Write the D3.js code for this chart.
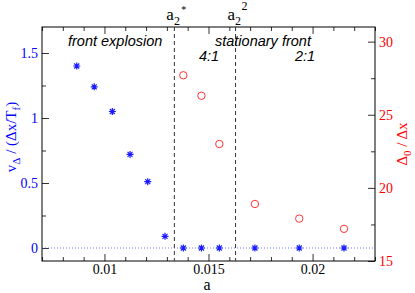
<!DOCTYPE html>
<html>
<head>
<meta charset="utf-8">
<script src="https://cdn.jsdelivr.net/npm/d3@7"></script>
<style>
  body { margin: 0; background: #fff; }
  svg { display: block; }
  .note { font-family: "Liberation Sans", Arial, sans-serif; font-style: italic; font-size: 14.5px; }
</style>
</head>
<body>
<svg></svg>
<script>
// размеры картинки
const width = 415;
const height = 293;
const margin = { top: 27, right: 40, bottom: 32, left: 42 };

// данные: скорость фронта (звёздочки, левая ось)
const speedA = [0.00867, 0.00951, 0.01038, 0.01123, 0.01208, 0.01291, 0.01379, 0.01466, 0.01552, 0.01723, 0.01936, 0.02151];
const speedV = [1.40, 1.24, 1.05, 0.72, 0.51, 0.09, 0, 0, 0, 0, 0, 0];

// данные: ширина фронта (кружки, правая ось)
const widthA = [0.01379, 0.01466, 0.01552, 0.01723, 0.01936, 0.02151];
const widthD = [27.7, 26.3, 23.0, 18.9, 17.9, 17.2];

// вертикальные пунктиры a2* и a2^2
const thresholds = [0.01336, 0.0163];

// подписи делений
const xTicks = [0.01, 0.015, 0.02];
const leftTicks = [0, 0.5, 1, 1.5];
const rightTicks = [15, 20, 25, 30];

const serif = "'Liberation Serif', 'Times New Roman', serif";

const svg = d3.select("svg")
  .attr("width", width)
  .attr("height", height);

const x0 = margin.left, x1 = width - margin.right;
const y0 = margin.top, y1 = height - margin.bottom;

const x = d3.scaleLinear().domain([0.007, 0.023]).range([x0, x1]);
const yL = d3.scaleLinear().domain([-0.1, 1.7]).range([y1, y0]);
const yR = d3.scaleLinear().domain([15, 31]).range([y1, y0]);

// мелкие деления
const xMinor = d3.range(7, 24).map(d => d / 1000).filter(d => !xTicks.some(t => Math.abs(t - d) < 1e-9));
const leftMinor = [0.25, 0.75, 1.25];
const rightMinor = [17.5, 22.5, 27.5];

function clean(g) {
  g.attr("font-family", serif).attr("font-size", 14);
  g.select(".domain").remove();
  g.selectAll(".tick line").attr("stroke", "#333");
}

// нижняя ось
svg.append("g")
  .attr("transform", `translate(0,${y1})`)
  .call(d3.axisBottom(x).tickValues(xTicks).tickSize(-7).tickPadding(3).tickFormat(d3.format("")))
  .call(clean)
  .call(g => g.selectAll("text").attr("fill", "#000"));
svg.append("g")
  .attr("transform", `translate(0,${y1})`)
  .call(d3.axisBottom(x).tickValues(xMinor).tickSize(-4).tickFormat(""))
  .call(clean);

// верхняя ось (без подписей)
svg.append("g")
  .attr("transform", `translate(0,${y0})`)
  .call(d3.axisTop(x).tickValues(xTicks).tickSize(-7).tickFormat(""))
  .call(clean);
svg.append("g")
  .attr("transform", `translate(0,${y0})`)
  .call(d3.axisTop(x).tickValues(xMinor).tickSize(-4).tickFormat(""))
  .call(clean);

// левая ось
svg.append("g")
  .attr("transform", `translate(${x0},0)`)
  .call(d3.axisLeft(yL).tickValues(leftTicks).tickSize(-7).tickPadding(4).tickFormat(d3.format("")))
  .call(clean)
  .call(g => g.selectAll("text").attr("fill", "#0000ff"));
svg.append("g")
  .attr("transform", `translate(${x0},0)`)
  .call(d3.axisLeft(yL).tickValues(leftMinor).tickSize(-4).tickFormat(""))
  .call(clean);

// правая ось
svg.append("g")
  .attr("transform", `translate(${x1},0)`)
  .call(d3.axisRight(yR).tickValues(rightTicks).tickSize(-7).tickPadding(4).tickFormat(d3.format("")))
  .call(clean)
  .call(g => g.selectAll("text").attr("fill", "#ff0000"));
svg.append("g")
  .attr("transform", `translate(${x1},0)`)
  .call(d3.axisRight(yR).tickValues(rightMinor).tickSize(-4).tickFormat(""))
  .call(clean);

// рамка
svg.append("rect")
  .attr("x", x0).attr("y", y0)
  .attr("width", x1 - x0).attr("height", y1 - y0)
  .attr("fill", "none").attr("stroke", "#000").attr("stroke-width", 1);

// нулевая линия
svg.append("line")
  .attr("x1", x0).attr("x2", x1)
  .attr("y1", yL(0)).attr("y2", yL(0))
  .attr("stroke", "#4455ff").attr("stroke-width", 0.8)
  .attr("stroke-dasharray", "1,2");

// пунктиры
svg.selectAll(".thr")
  .data(thresholds)
  .join("line")
  .attr("class", "thr")
  .attr("x1", d => x(d)).attr("x2", d => x(d))
  .attr("y1", y0).attr("y2", y1)
  .attr("stroke", "#333").attr("stroke-width", 1)
  .attr("stroke-dasharray", "4,3");

// подписи над пунктирами
const topLabels = [
  { a: thresholds[0], sup: "*" },
  { a: thresholds[1], sup: "2" }
];
topLabels.forEach(l => {
  const t = svg.append("text")
    .attr("x", x(l.a) - 8).attr("y", 20)
    .attr("font-family", serif).attr("font-size", 17);
  t.append("tspan").text("a");
  t.append("tspan").attr("font-size", 12).attr("dy", 5).text("2");
  svg.append("text")
    .attr("x", x(l.a) + (l.sup === "*" ? 7 : 6)).attr("y", l.sup === "*" ? 13 : 10)
    .attr("font-family", serif).attr("font-size", l.sup === "*" ? 10 : 12)
    .text(l.sup);
});

// кружки
svg.append("g")
  .selectAll("circle")
  .data(widthA.map((a, i) => [a, widthD[i]]))
  .join("circle")
  .attr("cx", d => x(d[0]))
  .attr("cy", d => yR(d[1]))
  .attr("r", 3.7)
  .attr("fill", "none")
  .attr("stroke", "#ff3333")
  .attr("stroke-width", 1);

// звёздочки
const star = "M-3.5,0H3.5M0,-3.5V3.5M-2.5,-2.5L2.5,2.5M-2.5,2.5L2.5,-2.5";
svg.append("g")
  .selectAll("path")
  .data(speedA.map((a, i) => [a, speedV[i]]))
  .join("path")
  .attr("transform", d => `translate(${x(d[0])},${yL(d[1])})`)
  .attr("d", star)
  .attr("stroke", "#1a1aff")
  .attr("stroke-width", 1.2)
  .attr("fill", "none");

// надписи
const notes = [
  { text: "front explosion", x: 68, y: 46 },
  { text: "stationary front", x: 215, y: 46 },
  { text: "4:1", x: 199, y: 61 },
  { text: "2:1", x: 295, y: 61 }
];
svg.selectAll(".note")
  .data(notes)
  .join("text")
  .attr("class", "note")
  .attr("x", d => d.x).attr("y", d => d.y)
  .text(d => d.text);

// подпись оси x
svg.append("text")
  .attr("x", 207).attr("y", 290)
  .attr("text-anchor", "middle")
  .attr("font-family", serif).attr("font-size", 16)
  .text("a");

// левая подпись
const ly = svg.append("text")
  .attr("transform", `translate(16,137) rotate(-90)`)
  .attr("text-anchor", "middle")
  .attr("font-family", serif).attr("font-size", 15)
  .attr("fill", "#0000ff");
ly.append("tspan").text("v");
ly.append("tspan").attr("font-size", 11).attr("dy", 4).text("Δ");
ly.append("tspan").attr("dy", -4).text(" / (Δx/T");
ly.append("tspan").attr("font-size", 11).attr("dy", 4).text("f");
ly.append("tspan").attr("dy", -4).text(")");

// правая подпись
const ry = svg.append("text")
  .attr("transform", `translate(407,${(y0 + y1) / 2}) rotate(-90)`)
  .attr("text-anchor", "middle")
  .attr("font-family", serif).attr("font-size", 15)
  .attr("fill", "#ff0000");
ry.append("tspan").text("Δ");
ry.append("tspan").attr("font-size", 11).attr("dy", 4).text("0");
ry.append("tspan").attr("dy", -4).text(" / Δx");
</script>
</body>
</html>
